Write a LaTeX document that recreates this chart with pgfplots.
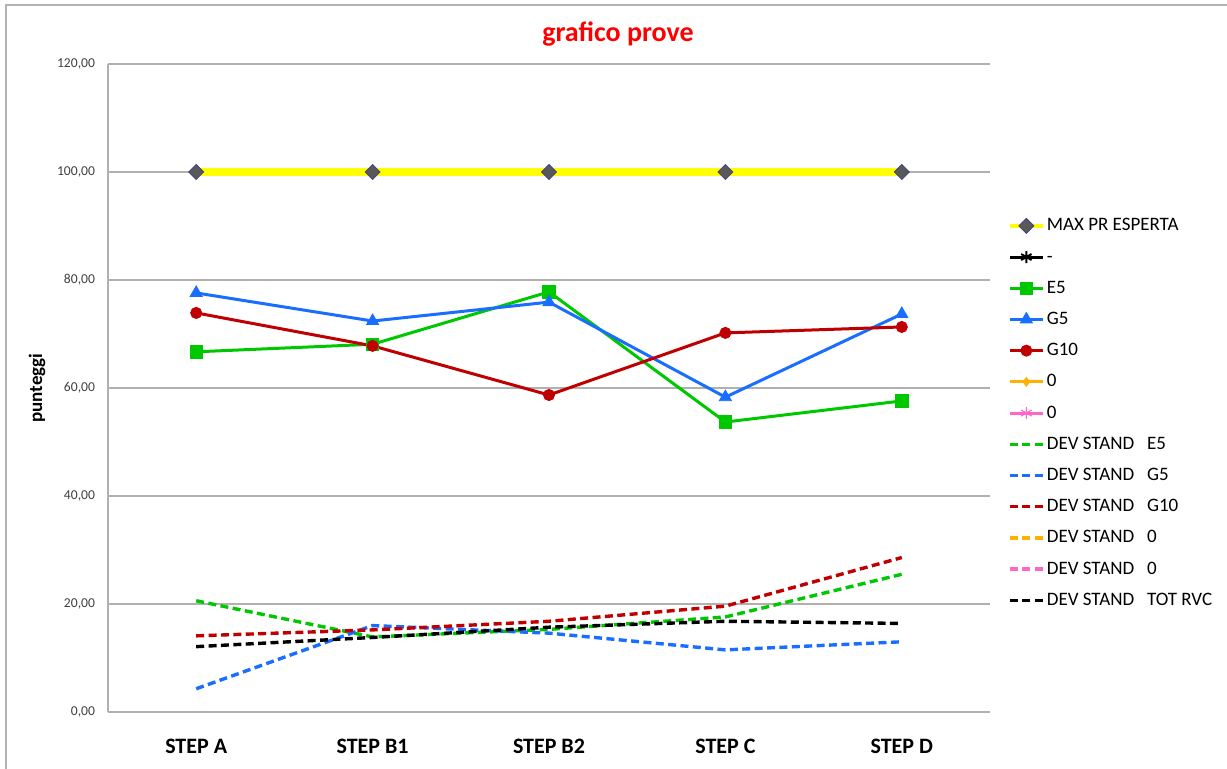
\documentclass[border=0pt]{standalone}
\usepackage{pgfplots}
\pgfplotsset{compat=1.18}
\usepackage{fontspec}
\setmainfont{Carlito}

\definecolor{cMax}{HTML}{FFFF00}
\definecolor{cDia}{HTML}{595959}
\definecolor{cE}{HTML}{00C800}
\definecolor{cG}{HTML}{1A6EFF}
\definecolor{cR}{HTML}{C00000}
\definecolor{cO}{HTML}{FFB000}
\definecolor{cP}{HTML}{FF66CC}
\definecolor{cGrid}{HTML}{B0B0B0}

% scores per step (0 = STEP A ... 4 = STEP D)
\pgfplotstableread{
x  max   e5    g5    g10   sde5  sdg5  sdg10 sdtot
0  100   66.7  77.6  73.9  20.6  4.3   14.1  12.1
1  100   68.1  72.4  67.8  13.9  16.0  15.2  13.8
2  100   77.8  75.9  58.7  15.3  14.6  16.8  15.7
3  100   53.7  58.3  70.2  17.6  11.5  19.6  16.8
4  100   57.6  73.7  71.3  25.5  13.0  28.6  16.4
}\scores

\tikzset{
  dev/.style={line width=1.7pt, dash pattern=on 4pt off 2.2pt},
  ser/.style={line width=1.5pt},
  dia/.style={mark=square*, mark size=2.65pt,
    mark options={solid, rotate=45, fill=cDia, draw=cDia!75!blue, line width=0.4pt}},
}

\begin{document}
\begin{tikzpicture}
\useasboundingbox (0,0) rectangle (613.5pt,384.5pt);
% chart frame
\draw[gray!60,line width=1pt] (3pt,0pt) -- (3pt,382pt) -- (613.5pt,382pt);
% title
\node[text=red,font=\fontsize{14}{16}\selectfont\bfseries] at (309pt,367.5pt) {grafico prove};

\begin{axis}[
  at={(54pt,28.5pt)}, anchor=south west,
  scale only axis, width=441pt, height=324pt,
  xmin=-0.5, xmax=4.5, ymin=0, ymax=120,
  xtick={0,1,2,3,4},
  xticklabels={STEP A,STEP B1,STEP B2,STEP C,STEP D},
  ytick={0,20,40,60,80,100,120},
  major tick length=0pt,
  axis line style={draw=none},
  ymajorgrids, grid style={cGrid,line width=0.8pt},
  xticklabel style={font=\fontsize{11}{13}\selectfont\bfseries, yshift=-10pt},
  yticklabel style={font=\fontsize{6.8}{8}\selectfont, text=black!75, xshift=-3pt},
  /pgf/number format/.cd, fixed, fixed zerofill, precision=2, use comma, assume math mode=true,
  /pgfplots/.cd,
  ylabel={punteggi},
  ylabel style={font=\fontsize{9.5}{11}\selectfont\bfseries, yshift=-1pt},
  legend cell align=left,
  legend style={at={(1.013,0.774)}, anchor=north west, draw=none, fill=none,
    font=\fontsize{9.5}{11}\selectfont, row sep=4.6pt,
    nodes={inner sep=1pt, text height=7pt, text depth=2pt},
    /tikz/every even column/.append style={column sep=5pt}},
  legend image code/.code={
    \draw[#1,mark repeat=2,mark phase=2] plot coordinates {(0cm,0cm) (0.29cm,0cm) (0.58cm,0cm)};},
  clip=false,
]
\draw[cGrid,line width=0.8pt] (axis cs:-0.5,0) -- (axis cs:-0.5,120);

\addplot[cMax, line width=4pt, dia, forget plot] table[x=x,y=max] {\scores};
\addlegendimage{cMax, line width=2pt, dia}
\addlegendentry{MAX PR ESPERTA}
\addlegendimage{black, line width=1.5pt, mark=asterisk, mark size=3pt, mark options={line width=1pt}}
\addlegendentry{-}

\addplot[cE, ser, mark=square*, mark size=3.1pt, mark options={line width=0.4pt}] table[x=x,y=e5] {\scores};
\addlegendentry{E5}
\addplot[cG, ser, mark=triangle*, mark size=3.5pt, mark options={line width=0.4pt}] table[x=x,y=g5] {\scores};
\addlegendentry{G5}
\addplot[cR, ser, mark=*, mark size=2.8pt, mark options={line width=0.4pt}] table[x=x,y=g10] {\scores};
\addlegendentry{G10}
\addlegendimage{cO, line width=1.5pt, mark=diamond*, mark size=2.2pt, mark options={line width=0.4pt}}
\addlegendentry{0}
\addlegendimage{cP, line width=1.5pt, mark=asterisk, mark size=3pt, mark options={line width=0.6pt}}
\addlegendentry{0}

\addplot[cE, dev] table[x=x,y=sde5] {\scores};
\addlegendentry{DEV STAND\ \ \ E5}
\addplot[cG, dev] table[x=x,y=sdg5] {\scores};
\addlegendentry{DEV STAND\ \ \ G5}
\addplot[cR, dev] table[x=x,y=sdg10] {\scores};
\addlegendentry{DEV STAND\ \ \ G10}
\addlegendimage{cO, dev}
\addlegendentry{DEV STAND\ \ \ 0}
\addlegendimage{cP, dev}
\addlegendentry{DEV STAND\ \ \ 0}
\addplot[black, dev] table[x=x,y=sdtot] {\scores};
\addlegendentry{DEV STAND\ \ \ TOT RVC}
\end{axis}
\end{tikzpicture}
\end{document}
